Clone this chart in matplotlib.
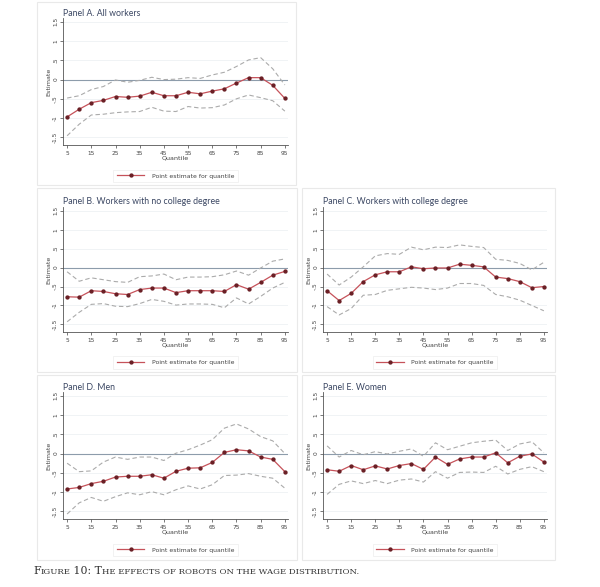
# ---------------------------------------------------------------------------------------------- #
# Quantile estimates of the effect of robots on wages, five panels in Stata style.
# ---------------------------------------------------------------------------------------------- #
import numpy as np
import matplotlib.pyplot as plt
from matplotlib.patches import Rectangle
# ---------------------------------------------------------------------------------------------- #


# ---------------------------------------------------------------------------------------------- #
# We define the data.
# ---------------------------------------------------------------------------------------------- #
Quantiles = [5, 10, 15, 20, 25, 30, 35, 40, 45, 50, 55, 60, 65, 70, 75, 80, 85, 90, 95]
XTicks = [5, 15, 25, 35, 45, 55, 65, 75, 85, 95]
YTicks = [-1.5, -1, -0.5, 0, 0.5, 1, 1.5]
YTickLabels = ['-1.5', '-1', '-.5', '0', '.5', '1', '1.5']

PanelTitles = ['Panel A. All workers', 'Panel B. Workers with no college degree',
               'Panel C. Workers with college degree', 'Panel D. Men', 'Panel E. Women']

EstA = [-0.97, -0.77, -0.60, -0.54, -0.44, -0.46, -0.43, -0.33, -0.42, -0.42,
        -0.33, -0.37, -0.30, -0.24, -0.09, 0.05, 0.05, -0.15, -0.49]
UpA = [-0.48, -0.42, -0.26, -0.18, -0.01, -0.07, -0.02, 0.06, 0.00, 0.01,
       0.05, 0.03, 0.12, 0.19, 0.34, 0.51, 0.57, 0.28, -0.14]
LoA = [-1.46, -1.16, -0.92, -0.90, -0.86, -0.84, -0.83, -0.72, -0.82, -0.83,
       -0.70, -0.74, -0.73, -0.66, -0.50, -0.40, -0.47, -0.55, -0.82]

EstB = [-0.77, -0.78, -0.61, -0.63, -0.69, -0.71, -0.58, -0.54, -0.54, -0.66,
        -0.61, -0.61, -0.61, -0.63, -0.45, -0.57, -0.39, -0.20, -0.10]
UpB = [-0.11, -0.36, -0.27, -0.32, -0.37, -0.39, -0.24, -0.22, -0.17, -0.32,
       -0.25, -0.25, -0.24, -0.19, -0.09, -0.20, -0.01, 0.17, 0.23]
LoB = [-1.43, -1.18, -0.97, -0.95, -1.02, -1.03, -0.95, -0.84, -0.89, -0.99,
       -0.96, -0.96, -0.97, -1.06, -0.80, -0.96, -0.76, -0.54, -0.39]

EstC = [-0.61, -0.87, -0.68, -0.37, -0.19, -0.11, -0.11, 0.02, -0.03, -0.01,
        -0.01, 0.09, 0.06, 0.02, -0.25, -0.29, -0.37, -0.53, -0.50]
UpC = [-0.17, -0.46, -0.25, 0.02, 0.31, 0.37, 0.35, 0.54, 0.47, 0.54,
       0.53, 0.60, 0.56, 0.53, 0.22, 0.19, 0.11, -0.06, 0.14]
LoC = [-1.03, -1.25, -1.08, -0.73, -0.71, -0.60, -0.56, -0.52, -0.54, -0.58,
       -0.54, -0.42, -0.42, -0.47, -0.71, -0.77, -0.86, -1.00, -1.14]

EstD = [-0.92, -0.88, -0.78, -0.72, -0.61, -0.59, -0.59, -0.55, -0.64, -0.46,
        -0.38, -0.37, -0.23, 0.03, 0.10, 0.07, -0.09, -0.15, -0.47]
UpD = [-0.25, -0.47, -0.45, -0.22, -0.09, -0.15, -0.09, -0.09, -0.18, 0.01,
       0.10, 0.22, 0.36, 0.66, 0.77, 0.64, 0.44, 0.33, 0.00]
LoD = [-1.57, -1.28, -1.14, -1.24, -1.12, -1.02, -1.07, -0.99, -1.07, -0.94,
       -0.84, -0.92, -0.81, -0.57, -0.56, -0.52, -0.59, -0.64, -0.90]

EstE = [-0.42, -0.46, -0.31, -0.42, -0.32, -0.40, -0.31, -0.26, -0.41, -0.09,
        -0.28, -0.14, -0.09, -0.09, 0.02, -0.24, -0.07, -0.01, -0.22]
UpE = [0.20, -0.09, 0.08, -0.03, 0.05, -0.01, 0.06, 0.12, -0.07, 0.28,
       0.10, 0.19, 0.28, 0.32, 0.35, 0.08, 0.25, 0.31, 0.02]
LoE = [-1.06, -0.80, -0.71, -0.78, -0.70, -0.78, -0.69, -0.66, -0.74, -0.47,
       -0.64, -0.49, -0.48, -0.49, -0.33, -0.53, -0.41, -0.34, -0.47]
# ---------------------------------------------------------------------------------------------- #


# ---------------------------------------------------------------------------------------------- #
# We define plot properties. Boxes are in pixels: (left, top, right, bottom).
# ---------------------------------------------------------------------------------------------- #
FigW, FigH = 600, 587
TitleColor = '#3b4763'
LineColor = '#c6525a'
MarkerColor = '#6a1f25'
CIColor = '#ababab'
ZeroColor = '#8d9cab'
GridColor = '#eef1f4'
FrameColor = '#e9e9e9'
TickColor = '#444444'

AxesBoxes = [(63, 18, 288, 145), (63, 207, 288, 332), (323, 207, 547, 332),
             (63, 392, 288, 519), (323, 392, 547, 519)]
FrameBoxes = [(37, 2, 296, 185), (37, 188, 297, 372), (302, 188, 555, 372),
              (37, 375, 297, 560), (302, 375, 555, 560)]
# ---------------------------------------------------------------------------------------------- #


# ---------------------------------------------------------------------------------------------- #
# We define a function to draw one panel.
# ---------------------------------------------------------------------------------------------- #
def GenPanel(fig, Box, Frame, Title, Est, Up, Lo):
    l, t, r, b = Box
    ax = fig.add_axes([l/FigW, 1 - b/FigH, (r - l)/FigW, (b - t)/FigH])

    fl, ft, fr, fb = Frame
    fig.patches.append(Rectangle((fl/FigW, 1 - fb/FigH), (fr - fl)/FigW, (fb - ft)/FigH,
                                 transform = fig.transFigure, facecolor = 'none',
                                 edgecolor = FrameColor, linewidth = 0.8, zorder = 0))

    for y in YTicks:
        ax.axhline(y, color = GridColor, linewidth = 0.6, zorder = 0)
    ax.axhline(0, color = ZeroColor, linewidth = 0.8, zorder = 1)

    ax.plot(Quantiles, Up, color = CIColor, linewidth = 0.8, dashes = (4, 2.5), zorder = 2)
    ax.plot(Quantiles, Lo, color = CIColor, linewidth = 0.8, dashes = (4, 2.5), zorder = 2)
    ax.plot(Quantiles, Est, color = LineColor, linewidth = 0.9, marker = 'o',
            markersize = 2.1, markerfacecolor = MarkerColor, markeredgecolor = MarkerColor,
            label = 'Point estimate for quantile', zorder = 3)

    ax.set_xlim(3.3, 96.3)
    ax.set_ylim(-1.7, 1.6)
    ax.set_xticks(XTicks)
    ax.set_yticks(YTicks)
    ax.set_yticklabels(YTickLabels, rotation = 90, va = 'center')
    ax.tick_params(labelsize = 4.2, length = 2, width = 0.5, colors = TickColor)
    ax.tick_params(axis = 'x', pad = 2.5)
    ax.tick_params(axis = 'y', pad = 1.5)
    for s in ['top', 'right']:
        ax.spines[s].set_visible(False)
    for s in ['left', 'bottom']:
        ax.spines[s].set_linewidth(0.6)
        ax.spines[s].set_color('#555555')
    ax.set_xlabel('Quantile', fontsize = 4.6, labelpad = -0.5, color = TickColor)
    ax.set_ylabel('Estimate', fontsize = 4.6, labelpad = 1.5, color = TickColor)

    fig.text(l/FigW, 1 - (t - 5)/FigH, Title, fontsize = 6.3, family = 'Lato',
             color = TitleColor, ha = 'left', va = 'center')

    leg = ax.legend(loc = 'upper center', bbox_to_anchor = (0.5, -0.17), fontsize = 4.4,
                    frameon = True, fancybox = False, handlelength = 4.5, borderpad = 0.6,
                    handletextpad = 1.2)
    leg.get_frame().set_edgecolor('#ececec')
    leg.get_frame().set_linewidth(0.6)
    for txt in leg.get_texts():
        txt.set_color(TickColor)
    return ax
# ---------------------------------------------------------------------------------------------- #


# ---------------------------------------------------------------------------------------------- #
# We define a function to write the caption in small caps, piece by piece.
# ---------------------------------------------------------------------------------------------- #
def GenCaption(fig, x, y, Pieces):
    renderer = fig.canvas.get_renderer()
    for Text, Size in Pieces:
        t = fig.text(x/FigW, 1 - y/FigH, Text, fontsize = Size, family = 'DejaVu Serif',
                     color = '#333333', ha = 'left', va = 'baseline')
        w = t.get_window_extent(renderer).width
        x += w
# ---------------------------------------------------------------------------------------------- #


fig = plt.figure(figsize = (FigW/100, FigH/100), dpi = 100)
Series = [(EstA, UpA, LoA), (EstB, UpB, LoB), (EstC, UpC, LoC), (EstD, UpD, LoD), (EstE, UpE, LoE)]
for i, (Est, Up, Lo) in enumerate(Series):
    GenPanel(fig, AxesBoxes[i], FrameBoxes[i], PanelTitles[i], Est, Up, Lo)

GenCaption(fig, 33, 574, [('F', 7.8), ('IGURE', 6.1), (' 10: T', 7.8),
                          ('HE EFFECTS OF ROBOTS ON THE WAGE DISTRIBUTION.', 6.1)])

plt.savefig('out.png', dpi = 100)
